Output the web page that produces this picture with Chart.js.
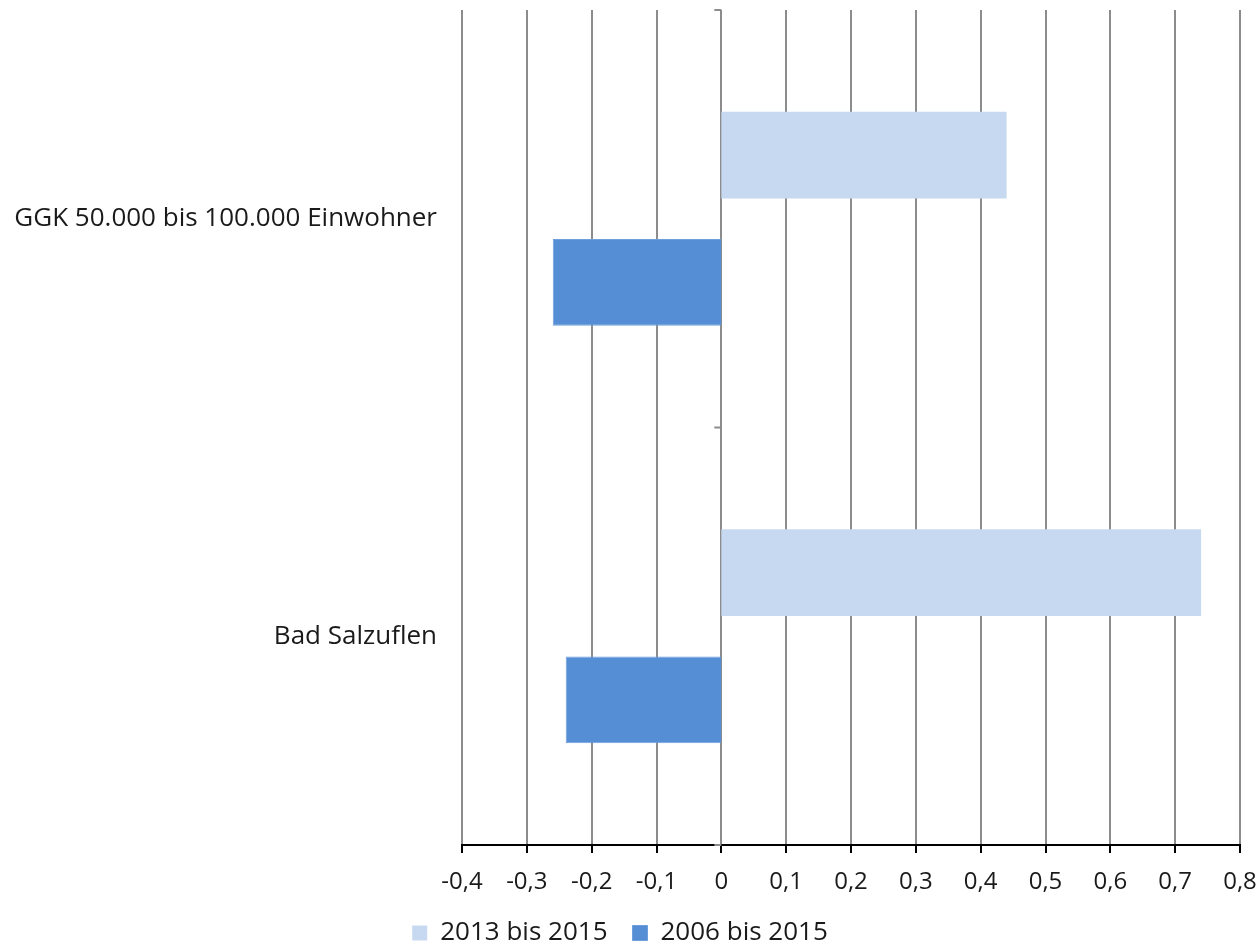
<!DOCTYPE html>
<html>
<head>
<meta charset="utf-8">
<script src="https://cdn.jsdelivr.net/npm/chart.js@4.4.0/dist/chart.umd.min.js"></script>
<style>
  html, body { margin: 0; padding: 0; background: #ffffff; }
  #wrap { width: 1259px; height: 946px; }
</style>
</head>
<body>
<div id="wrap"><canvas id="chart" width="1259" height="946"></canvas></div>
<script>
const categories = ['GGK 50.000 bis 100.000 Einwohner', 'Bad Salzuflen'];
const series2013 = [0.44, 0.74];
const series2006 = [-0.26, -0.24];
const seriesNames = ['2013 bis 2015', '2006 bis 2015'];
const xMin = -0.4;
const xMax = 0.8;

// small tick marks left of the zero line at category boundaries
const zeroTicks = {
    id: 'zeroTicks',
    afterDraw(chart) {
        const { ctx, scales } = chart;
        const x0 = scales.x.getPixelForValue(0);
        ctx.save();
        ctx.strokeStyle = '#8c8c8c';
        ctx.lineWidth = 2;
        for (let i = 0; i <= categories.length; i++) {
            const y = scales.y.getPixelForValue(i - 0.5);
            ctx.beginPath();
            ctx.moveTo(x0 - 7, y);
            ctx.lineTo(x0, y);
            ctx.stroke();
        }
        ctx.restore();
    }
};

const tickFont = { family: 'Open Sans', size: 24 };
const labelFont = { family: 'Open Sans', size: 26 };

new Chart(document.getElementById('chart').getContext('2d'), {
    type: 'bar',
    data: {
        labels: categories,
        datasets: [
            {
                label: seriesNames[0],
                data: series2013,
                backgroundColor: '#c6d9f1',
                borderWidth: 0
            },
            {
                label: seriesNames[1],
                data: series2006,
                backgroundColor: '#558ed5',
                borderColor: '#6d9fdd',
                borderWidth: 1
            }
        ]
    },
    options: {
        indexAxis: 'y',
        responsive: false,
        animation: false,
        categoryPercentage: 0.61,
        barPercentage: 0.68,
        layout: { padding: { top: 10, right: 19, bottom: -10, left: 0 } },
        plugins: {
            tooltip: { enabled: false },
            legend: {
                position: 'bottom',
                labels: {
                    color: '#1a1a1a',
                    font: labelFont,
                    boxWidth: 15,
                    boxHeight: 15,
                    padding: 25
                }
            }
        },
        scales: {
            x: {
                min: xMin,
                max: xMax,
                ticks: {
                    stepSize: 0.1,
                    color: '#1a1a1a',
                    font: tickFont,
                    padding: 15,
                    maxRotation: 0,
                    callback: v => (Math.round(v * 10) / 10).toString().replace('.', ',')
                },
                grid: {
                    color: '#8c8c8c',
                    lineWidth: 2,
                    tickLength: 8,
                    tickColor: '#000000'
                },
                border: { display: true, color: '#000000', width: 2 },
                afterFit(scale) {
                    scale.height = 50;
                    scale.paddingLeft = 0;
                    scale.paddingRight = 0;
                }
            },
            y: {
                grid: { display: false, drawTicks: false },
                border: { display: false },
                ticks: { color: '#1a1a1a', font: labelFont, padding: 25 },
                afterFit(scale) {
                    scale.width = 462;
                    scale.paddingTop = 0;
                    scale.paddingBottom = 0;
                }
            }
        }
    },
    plugins: [zeroTicks]
});
</script>
</body>
</html>
